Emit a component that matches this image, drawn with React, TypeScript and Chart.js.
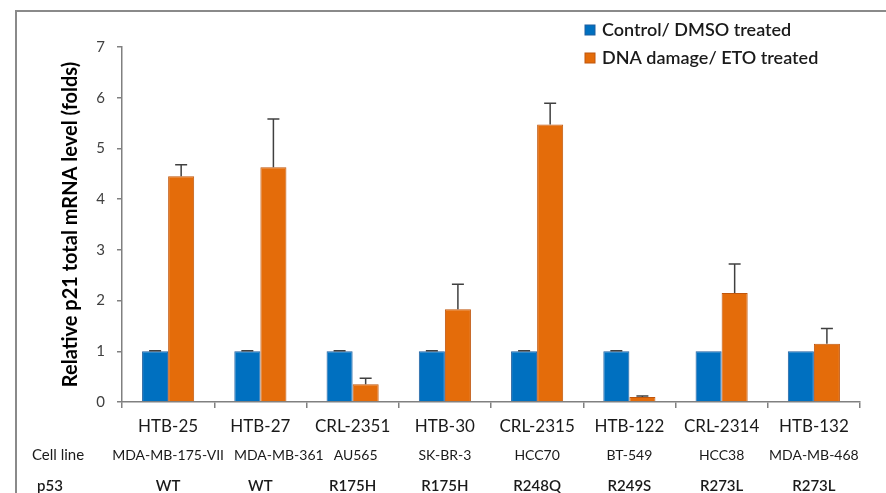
import { useEffect, useRef } from 'react';
import { Chart, registerables } from 'chart.js';

Chart.register(...registerables);

const categories = ['HTB-25', 'HTB-27', 'CRL-2351', 'HTB-30', 'CRL-2315', 'HTB-122', 'CRL-2314', 'HTB-132'];
const cellLines = ['MDA-MB-175-VII', 'MDA-MB-361', 'AU565', 'SK-BR-3', 'HCC70', 'BT-549', 'HCC38', 'MDA-MB-468'];
const p53Status = ['WT', 'WT', 'R175H', 'R175H', 'R248Q', 'R249S', 'R273L', 'R273L'];
const controlValues = [1, 1, 1, 1, 1, 1, 1, 1];
const controlErrors = [0.01, 0.01, 0.01, 0.01, 0.01, 0.01, 0, 0];
const etoValues = [4.45, 4.63, 0.35, 1.83, 5.47, 0.1, 2.15, 1.15];
const etoErrors = [0.23, 0.95, 0.12, 0.49, 0.42, 0.02, 0.57, 0.3];
const seriesNames = ['Control/ DMSO treated', 'DNA damage/ ETO treated'];
const rowLabels = ['Cell line', 'p53'];

const FONT = 'Lato, "Open Sans", sans-serif';
const BLUE = '#0070C0';
const BLUE_EDGE = '#1f5f9f';
const ORANGE = '#E46C0A';
const ORANGE_EDGE = '#c0560c';

const errorBarPlugin = {
  id: 'errorBars',
  afterDatasetsDraw(chart: any) {
    const ctx = chart.ctx;
    const yScale = chart.scales.y;
    const errs = [controlErrors, etoErrors];
    ctx.save();
    ctx.strokeStyle = '#404040';
    ctx.lineWidth = 1.5;
    chart.data.datasets.forEach((ds: any, di: number) => {
      const meta = chart.getDatasetMeta(di);
      meta.data.forEach((bar: any, i: number) => {
        const e = errs[di][i];
        if (!e) return;
        const v = ds.data[i];
        const yTop = yScale.getPixelForValue(v + e);
        const yBar = yScale.getPixelForValue(v);
        ctx.beginPath();
        ctx.moveTo(bar.x, yBar);
        ctx.lineTo(bar.x, yTop);
        ctx.moveTo(bar.x - 6, yTop);
        ctx.lineTo(bar.x + 6, yTop);
        ctx.stroke();
      });
    });
    ctx.restore();
  },
};

function drawRow(ctx: any, xScale: any, labels: string[], y: number) {
  // centre each label on its category, pushing a label right if it would collide with the previous one
  let prevRight = -Infinity;
  labels.forEach((c, i) => {
    const w = ctx.measureText(c).width;
    let left = xScale.getPixelForValue(i) - w / 2;
    if (left < prevRight + 10) left = prevRight + 10;
    ctx.fillText(c, left, y);
    prevRight = left + w;
  });
}

const extraLabelsPlugin = {
  id: 'extraLabels',
  afterDraw(chart: any) {
    const ctx = chart.ctx;
    const xScale = chart.scales.x;
    ctx.save();
    ctx.textBaseline = 'middle';
    ctx.textAlign = 'left';
    ctx.fillStyle = '#1a1a1a';
    ctx.font = `14px ${FONT}`;
    drawRow(ctx, xScale, cellLines, 455);
    ctx.font = `600 15px ${FONT}`;
    drawRow(ctx, xScale, p53Status, 486);
    ctx.font = `15px ${FONT}`;
    ctx.fillText(rowLabels[0], 32, 455);
    ctx.font = `600 15px ${FONT}`;
    ctx.fillText(rowLabels[1], 37, 486);

    // legend
    const colors = [[BLUE, BLUE_EDGE], [ORANGE, ORANGE_EDGE]];
    ctx.font = `600 18px ${FONT}`;
    seriesNames.forEach((n, i) => {
      const y = 30 + i * 28;
      ctx.fillStyle = colors[i][0];
      ctx.fillRect(585, y - 5, 10, 10);
      ctx.strokeStyle = colors[i][1];
      ctx.lineWidth = 1;
      ctx.strokeRect(585, y - 5, 10, 10);
      ctx.fillStyle = '#1a1a1a';
      ctx.fillText(n, 602, y);
    });
    ctx.restore();
  },
};

export default function App() {
  const ref = useRef<HTMLCanvasElement>(null);
  useEffect(() => {
    document.body.style.margin = '0';
    const chart = new Chart(ref.current!, {
      type: 'bar',
      data: {
        labels: categories,
        datasets: [
          {
            label: seriesNames[0],
            data: controlValues,
            backgroundColor: BLUE,
            borderColor: BLUE_EDGE,
            borderWidth: 1,
          },
          {
            label: seriesNames[1],
            data: etoValues,
            backgroundColor: ORANGE,
            borderColor: ORANGE_EDGE,
            borderWidth: 1,
          },
        ],
      },
      options: {
        animation: false,
        responsive: true,
        maintainAspectRatio: false,
        layout: { padding: { top: 47, right: 26, left: 0, bottom: 0 } },
        plugins: {
          legend: { display: false },
          tooltip: { enabled: false },
        },
        datasets: {
          bar: { categoryPercentage: 0.565, barPercentage: 1 },
        },
        scales: {
          x: {
            grid: {
              display: true,
              drawOnChartArea: false,
              offset: true,
              tickLength: 6,
              color: '#808080',
              lineWidth: 1.5,
            },
            border: { color: '#808080', width: 1.5 },
            ticks: {
              font: { family: FONT, size: 17 },
              color: '#1a1a1a',
              padding: 8,
            },
            afterFit: (s: any) => {
              s.height = 91;
            },
          },
          y: {
            min: 0,
            max: 7,
            ticks: {
              stepSize: 1,
              font: { family: FONT, size: 15 },
              color: '#404040',
              padding: 12,
            },
            grid: {
              display: true,
              drawOnChartArea: false,
              tickLength: 5,
              color: '#808080',
              lineWidth: 1.5,
            },
            border: { color: '#808080', width: 1.5 },
            title: {
              display: true,
              text: 'Relative p21 total mRNA level (folds)',
              font: { family: FONT, size: 20, weight: 'bold' },
              color: '#000000',
              padding: { top: 59, bottom: 0 },
            },
            afterFit: (s: any) => {
              s.width = 122;
            },
          },
        },
      },
      plugins: [errorBarPlugin, extraLabelsPlugin],
    });
    return () => chart.destroy();
  }, []);
  return (
    <div style={{ position: 'relative', width: 886, height: 493, background: '#fff', overflow: 'hidden' }}>
      <div
        style={{
          position: 'absolute',
          left: 15,
          top: 10,
          width: 1000,
          height: 1000,
          borderTop: '2px solid #8a8a8a',
          borderLeft: '2px solid #8a8a8a',
        }}
      />
      <div style={{ position: 'absolute', left: 0, top: 0, width: 886, height: 493 }}>
        <canvas ref={ref} />
      </div>
    </div>
  );
}
